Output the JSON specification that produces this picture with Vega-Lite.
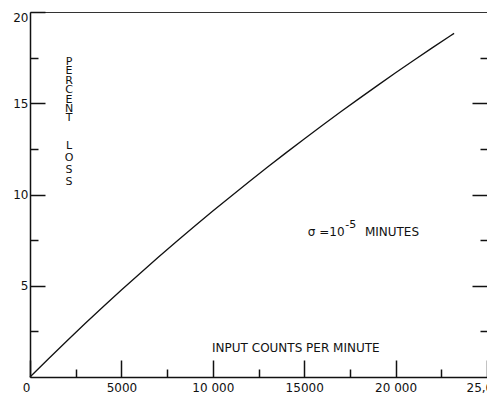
{
  "$schema": "https://vega.github.io/schema/vega-lite/v6.json",
  "width": 457,
  "height": 365,
  "autosize": {"type": "none"},
  "padding": {"left": 30, "top": 12, "right": 0, "bottom": 17},
  "background": "white",
  "config": {"view": {"stroke": null}, "font": "DejaVu Sans", "axis": {"grid": false, "title": null}},
  "datasets": {
    "curve": [
      {"n": 0, "loss": 0}, {"n": 1000, "loss": 0.99}, {"n": 2000, "loss": 1.961}, {"n": 3000, "loss": 2.913},
      {"n": 4000, "loss": 3.846}, {"n": 5000, "loss": 4.762}, {"n": 6000, "loss": 5.66}, {"n": 7000, "loss": 6.542},
      {"n": 8000, "loss": 7.407}, {"n": 9000, "loss": 8.257}, {"n": 10000, "loss": 9.091}, {"n": 11000, "loss": 9.91},
      {"n": 12000, "loss": 10.714}, {"n": 13000, "loss": 11.504}, {"n": 14000, "loss": 12.281}, {"n": 15000, "loss": 13.043},
      {"n": 16000, "loss": 13.793}, {"n": 17000, "loss": 14.53}, {"n": 18000, "loss": 15.254}, {"n": 19000, "loss": 15.966},
      {"n": 20000, "loss": 16.667}, {"n": 21000, "loss": 17.355}, {"n": 22000, "loss": 18.033}, {"n": 23000, "loss": 18.699},
      {"n": 23200, "loss": 18.831}
    ],
    "notes": [
      {"t": "P\nE\nR\nC\nE\nN\nT", "n": 2134, "loss": 17.26, "g": "percent"},
      {"t": "L\nO\nS\nS", "n": 2134, "loss": 12.66, "g": "loss"},
      {"t": "σ =10", "n": 15200, "loss": 7.95, "g": "sigma"},
      {"t": "-5", "n": 17250, "loss": 8.35, "g": "sup"},
      {"t": "MINUTES", "n": 18320, "loss": 7.95, "g": "min"},
      {"t": "INPUT COUNTS PER MINUTE", "n": 9960, "loss": 1.59, "g": "xtitle"}
    ]
  },
  "resolve": {"axis": {"x": "independent", "y": "independent"}},
  "layer": [
    {
      "data": {"name": "curve"},
      "mark": {"type": "line", "color": "#111", "strokeWidth": 1.3},
      "encoding": {
        "x": {"field": "n", "type": "quantitative", "scale": {"domain": [0, 25000], "nice": false},
          "axis": {"orient": "bottom", "values": [0, 5000, 10000, 15000, 20000, 25000], "format": "d",
            "labelExpr": "datum.value==10000?'10 000':datum.value==20000?'20 000':datum.value==25000?'25,000':datum.label",
            "labelAlign": {"condition": {"test": "datum.value==0", "value": "right"}, "value": "center"},
            "tickSize": -17, "tickWidth": 1.5, "tickColor": "#111", "domainColor": "#111", "domainWidth": 1.5,
            "labelFlush": false, "labelPadding": 22, "labelFontSize": 12, "labelColor": "#111", "labelFont": "DejaVu Sans"}},
        "y": {"field": "loss", "type": "quantitative", "scale": {"domain": [0, 20], "nice": false},
          "axis": {"orient": "left", "values": [5, 10, 15, 20], "tickSize": -15, "tickWidth": 1.5, "tickColor": "#111",
            "domainColor": "#111", "domainWidth": 1.5, "labelPadding": 17, "labelFontSize": 12, "labelColor": "#111",
            "labelFont": "DejaVu Sans", "labelFlush": true}}
      }
    },
    {
      "data": {"name": "notes"},
      "transform": [{"filter": "datum.g=='percent'"}],
      "mark": {"type": "text", "lineBreak": "\n", "lineHeight": 9.4, "fontSize": 11, "align": "center", "baseline": "middle", "color": "#111"},
      "encoding": {
        "x": {"field": "n", "type": "quantitative",
          "axis": {"orient": "bottom", "values": [2500, 7500, 12500, 17500, 22500], "tickSize": -8, "tickWidth": 1.5, "tickColor": "#111", "labels": false, "domain": false}},
        "y": {"field": "loss", "type": "quantitative",
          "axis": {"orient": "left", "values": [2.5, 7.5, 12.5, 17.5], "tickSize": -8, "tickWidth": 1.5, "tickColor": "#111", "labels": false, "domain": false}},
        "text": {"field": "t"}
      }
    },
    {
      "data": {"name": "notes"},
      "transform": [{"filter": "datum.g=='loss'"}],
      "mark": {"type": "text", "lineBreak": "\n", "lineHeight": 12, "fontSize": 11, "align": "center", "baseline": "middle", "color": "#111"},
      "encoding": {
        "x": {"field": "n", "type": "quantitative",
          "axis": {"orient": "top", "ticks": false, "labels": false, "domain": true, "domainColor": "#333", "domainWidth": 1.2}},
        "y": {"field": "loss", "type": "quantitative",
          "axis": {"orient": "right", "values": [5, 10, 15], "tickSize": -15, "tickWidth": 1.5, "tickColor": "#111", "labels": false, "domain": false}},
        "text": {"field": "t"}
      }
    },
    {
      "data": {"name": "notes"},
      "transform": [{"filter": "datum.g=='sigma' || datum.g=='min' || datum.g=='xtitle'"}],
      "mark": {"type": "text", "fontSize": 12, "align": "left", "baseline": "middle", "color": "#111"},
      "encoding": {
        "x": {"field": "n", "type": "quantitative", "axis": null},
        "y": {"field": "loss", "type": "quantitative",
          "axis": {"orient": "right", "values": [2.5, 7.5, 12.5, 17.5], "tickSize": -7, "tickWidth": 1.5, "tickColor": "#111", "labels": false, "domain": false}},
        "text": {"field": "t"}
      }
    },
    {
      "data": {"name": "notes"},
      "transform": [{"filter": "datum.g=='sup'"}],
      "mark": {"type": "text", "fontSize": 11, "align": "left", "baseline": "middle", "color": "#111"},
      "encoding": {
        "x": {"field": "n", "type": "quantitative", "axis": null},
        "y": {"field": "loss", "type": "quantitative", "axis": null},
        "text": {"field": "t"}
      }
    }
  ]
}
